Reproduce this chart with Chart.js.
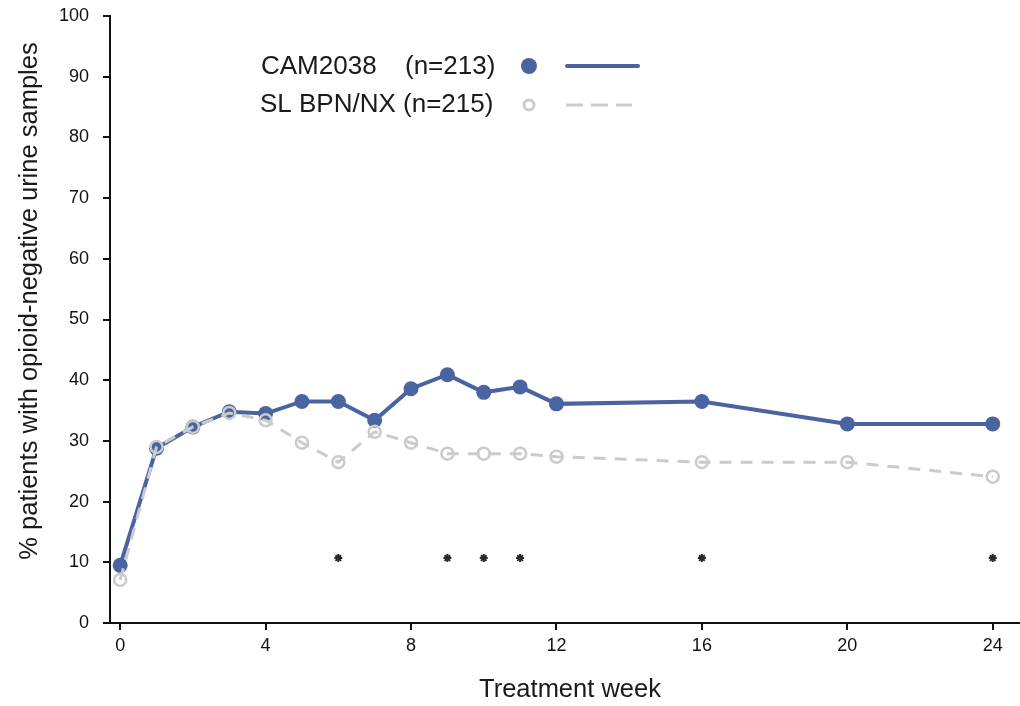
<!DOCTYPE html>
<html>
<head>
<meta charset="utf-8">
<script src="https://cdn.jsdelivr.net/npm/chart.js@4"></script>
<style>
  html, body { margin: 0; padding: 0; background: #ffffff; }
  #wrap { width: 1020px; height: 706px; position: relative; }
</style>
</head>
<body>
<div id="wrap"><canvas id="c" width="1020" height="706"></canvas></div>
<script>
// ---- data ----
const weeks      = [0, 1, 2, 3, 4, 5, 6, 7, 8, 9, 10, 11, 12, 16, 20, 24];
const cam2038    = [9.5, 28.8, 32.3, 34.8, 34.5, 36.5, 36.5, 33.4, 38.6, 40.9, 38.0, 38.9, 36.1, 36.5, 32.8, 32.8];
const slBpnNx    = [7.1, 29.0, 32.3, 34.6, 33.4, 29.7, 26.5, 31.5, 29.7, 27.9, 27.9, 27.9, 27.4, 26.5, 26.5, 24.1];
const sigWeeks   = [6, 9, 10, 11, 16, 24];
const sigLevel   = 10.7;
const xTickVals  = [0, 4, 8, 12, 16, 20, 24];
const yTickVals  = [0, 10, 20, 30, 40, 50, 60, 70, 80, 90, 100];
const seriesNames = ['CAM2038', '(n=213)', 'SL BPN/NX (n=215)'];
const xTitle = 'Treatment week';
const yTitle = '% patients with opioid-negative urine samples';

const BLUE = '#4a64a1';
const GREY = '#cbcbcb';
const FONT = "'Liberation Sans', Arial, Helvetica, sans-serif";

const toXY = (xs, ys) => xs.map((x, i) => ({x: x, y: ys[i]}));

const noPad = s => { s.paddingLeft = 0; s.paddingRight = 0; s.paddingTop = 0; s.paddingBottom = 0; };

const overlay = {
  id: 'overlay',
  afterDraw(chart) {
    const ctx = chart.ctx;
    ctx.save();
    // y-axis title
    ctx.fillStyle = '#1a1a1a';
    ctx.font = '25.5px ' + FONT;
    ctx.textAlign = 'center';
    ctx.textBaseline = 'middle';
    ctx.translate(30, 301);
    ctx.rotate(-Math.PI / 2);
    ctx.fillText(yTitle, 0, 0);
    ctx.restore();

    // x-axis title
    ctx.save();
    ctx.fillStyle = '#1a1a1a';
    ctx.font = '25.5px ' + FONT;
    ctx.textAlign = 'center';
    ctx.textBaseline = 'middle';
    ctx.fillText(xTitle, 570, 690);
    ctx.restore();

    // legend
    ctx.save();
    ctx.fillStyle = '#1a1a1a';
    ctx.font = '26px ' + FONT;
    ctx.textAlign = 'left';
    ctx.textBaseline = 'middle';
    ctx.fillText(seriesNames[0], 261, 67);
    ctx.fillText(seriesNames[1], 405, 67);
    ctx.fillText(seriesNames[2], 260, 105);
    // blue marker + line
    ctx.fillStyle = BLUE;
    ctx.beginPath(); ctx.arc(529, 66, 8, 0, Math.PI * 2); ctx.fill();
    ctx.strokeStyle = BLUE; ctx.lineWidth = 4; ctx.lineCap = 'round';
    ctx.beginPath(); ctx.moveTo(567, 66); ctx.lineTo(638, 66); ctx.stroke();
    // grey marker + dashed line
    ctx.fillStyle = '#ffffff'; ctx.strokeStyle = GREY; ctx.lineWidth = 3;
    ctx.beginPath(); ctx.arc(529, 105, 5, 0, Math.PI * 2); ctx.fill(); ctx.stroke();
    ctx.lineCap = 'butt';
    ctx.setLineDash([17, 8]);
    ctx.beginPath(); ctx.moveTo(566, 105); ctx.lineTo(632, 105); ctx.stroke();
    ctx.restore();
  }
};

new Chart(document.getElementById('c'), {
  type: 'scatter',
  data: {
    datasets: [
      {
        label: 'SL BPN/NX (n=215)',
        data: toXY(weeks, slBpnNx),
        showLine: true,
        borderColor: GREY,
        borderWidth: 3,
        borderDash: [12, 9],
        pointRadius: 6,
        pointBorderWidth: 2.5,
        pointBackgroundColor: 'rgba(255,255,255,0)',
        pointBorderColor: GREY,
        order: 0
      },
      {
        label: 'CAM2038 (n=213)',
        data: toXY(weeks, cam2038),
        showLine: true,
        borderColor: BLUE,
        borderWidth: 4,
        pointRadius: 7.5,
        pointBorderWidth: 0,
        pointBackgroundColor: BLUE,
        pointBorderColor: BLUE,
        order: 1
      },
      {
        label: 'sig',
        data: sigWeeks.map(w => ({x: w, y: sigLevel})),
        showLine: false,
        pointStyle: 'star',
        pointRadius: 4,
        borderWidth: 2,
        pointBorderColor: '#2a2a2a',
        pointBackgroundColor: '#2a2a2a',
        order: 2
      }
    ]
  },
  options: {
    responsive: false,
    animation: false,
    events: [],
    layout: { autoPadding: false, padding: { top: 16, right: 0, left: 0, bottom: 0 } },
    plugins: { legend: { display: false }, tooltip: { enabled: false } },
    scales: {
      x: {
        type: 'linear',
        min: -0.28,
        max: 24.75,
        afterBuildTicks: s => { s.ticks = xTickVals.map(v => ({value: v})); },
        afterFit: s => { s.height = 83; noPad(s); },
        grid: { display: true, drawOnChartArea: false, drawTicks: true, tickLength: 7, color: '#111', lineWidth: 2 },
        border: { display: true, color: '#111', width: 2 },
        ticks: { color: '#111', font: { family: FONT, size: 18 }, padding: 5, maxRotation: 0 }
      },
      y: {
        type: 'linear',
        min: 0,
        max: 100,
        afterBuildTicks: s => { s.ticks = yTickVals.map(v => ({value: v})); },
        afterFit: s => { s.width = 110; noPad(s); },
        grid: { display: true, drawOnChartArea: false, drawTicks: true, tickLength: 7, color: '#111', lineWidth: 2 },
        border: { display: true, color: '#111', width: 2 },
        ticks: { color: '#111', font: { family: FONT, size: 18 }, padding: 14 }
      }
    }
  },
  plugins: [overlay]
});
</script>
</body>
</html>
